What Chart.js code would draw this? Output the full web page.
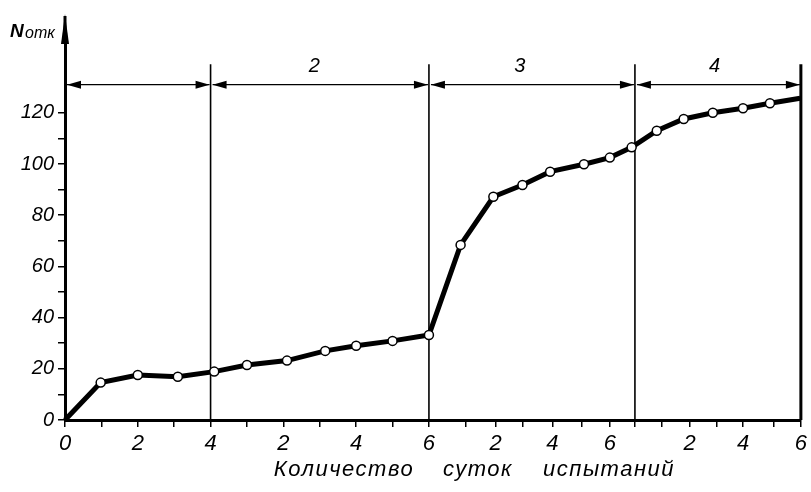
<!DOCTYPE html>
<html>
<head>
<meta charset="utf-8">
<script src="https://cdn.jsdelivr.net/npm/chart.js@4.4.0/dist/chart.umd.min.js"></script>
<style>
html, body { margin: 0; padding: 0; background: #fff; }
#wrap { width: 811px; height: 492px; }
</style>
</head>
<body>
<div id="wrap"><canvas id="chart" width="811" height="492"></canvas></div>
<script>
// x is measured along the axis in "days of period 1" (later periods are drawn compressed)
const tickPos = [0, 1, 2, 3, 4, 5, 6, 7, 8, 9, 10, 11, 11.83, 12.57, 13.39, 14.2, 14.97, 15.66, 16.39, 17.16, 17.9, 18.63, 19.48, 20.22];
const tickLabels = ['0', '', '2', '', '4', '', '2', '', '4', '', '6', '', '2', '', '4', '', '6', '', '', '2', '', '4', '', '6'];

const days = [0, 0.98, 2.0, 3.1, 4.1, 5.0, 6.1, 7.15, 8.0, 9.0, 10.0, 10.87, 11.77, 12.57, 13.33, 14.26, 14.97, 15.57, 16.26, 17.0, 17.8, 18.63, 19.37, 20.2];
const failures = [0, 14.6, 17.6, 16.9, 18.9, 21.5, 23.2, 27, 29, 30.9, 33.2, 68.4, 87.2, 91.8, 97, 99.9, 102.5, 106.5, 113, 117.6, 120, 121.8, 123.7, 125.7];

const yTicks = [0, 10, 20, 30, 40, 50, 60, 70, 80, 90, 100, 110, 120];

const periodBounds = [0, 4, 10, 15.66, 20.22];
const periodLabels = ['', '2', '3', '4'];
const periodLabelPos = [2, 6.85, 12.5, 17.85];
const arrowLevel = 131;
const boundTop = 139;

const FONT = "'Liberation Sans', 'DejaVu Sans', sans-serif";

const periodsPlugin = {
    id: 'periods',
    beforeDatasetsDraw(chart) {
        const { ctx, scales: { x, y } } = chart;
        ctx.save();
        ctx.strokeStyle = '#000';
        ctx.fillStyle = '#000';

        // boundary lines between periods
        periodBounds.slice(1).forEach((b, i) => {
            const px = x.getPixelForValue(b);
            ctx.lineWidth = i === periodBounds.length - 2 ? 3 : 1.6;
            ctx.beginPath();
            ctx.moveTo(px, y.getPixelForValue(boundTop));
            ctx.lineTo(px, y.getPixelForValue(0));
            ctx.stroke();
        });

        // dimension arrows
        const ay = y.getPixelForValue(arrowLevel);
        ctx.lineWidth = 1.3;
        for (let i = 0; i < periodBounds.length - 1; i++) {
            const a = x.getPixelForValue(periodBounds[i]) + 2;
            const b = x.getPixelForValue(periodBounds[i + 1]) - 1;
            ctx.beginPath();
            ctx.moveTo(a, ay);
            ctx.lineTo(b, ay);
            ctx.stroke();
            ctx.beginPath();
            ctx.moveTo(a, ay); ctx.lineTo(a + 14, ay - 4); ctx.lineTo(a + 14, ay + 4); ctx.closePath();
            ctx.moveTo(b, ay); ctx.lineTo(b - 14, ay - 4); ctx.lineTo(b - 14, ay + 4); ctx.closePath();
            ctx.fill();

            if (periodLabels[i]) {
                ctx.font = 'italic 20px ' + FONT;
                ctx.textAlign = 'center';
                ctx.textBaseline = 'alphabetic';
                ctx.fillText(periodLabels[i], x.getPixelForValue(periodLabelPos[i]), ay - 13);
            }
        }
        ctx.restore();
    },
    afterDraw(chart) {
        const { ctx, chartArea, scales: { x, y } } = chart;
        ctx.save();
        ctx.fillStyle = '#000';
        ctx.strokeStyle = '#000';
        // y axis arrow
        const ax = x.getPixelForValue(0);
        ctx.lineWidth = 3;
        ctx.beginPath();
        ctx.moveTo(ax, chartArea.top);
        ctx.lineTo(ax, 16);
        ctx.stroke();
        ctx.beginPath();
        ctx.moveTo(ax, 14); ctx.lineTo(ax - 4, 44); ctx.lineTo(ax + 4, 44); ctx.closePath();
        ctx.fill();

        // axis names
        ctx.textBaseline = 'alphabetic';
        ctx.textAlign = 'left';
        ctx.font = 'italic bold 19px ' + FONT;
        ctx.fillText('N', 10, 37);
        ctx.font = 'italic 16px ' + FONT;
        ctx.fillText('отк', 25, 38);

        ctx.font = 'italic 22px ' + FONT;
        ctx.textAlign = 'center';
        ctx.letterSpacing = '1.5px';
        ctx.fillText('Количество', 344, 476);
        ctx.fillText('суток', 478, 476);
        ctx.fillText('испытаний', 609, 476);
        ctx.restore();
    }
};

new Chart(document.getElementById('chart'), {
    type: 'line',
    data: {
        datasets: [{
            data: days.map((d, i) => ({ x: d, y: failures[i] })),
            borderColor: '#000',
            borderWidth: 5,
            tension: 0,
            pointRadius: days.map((d, i) => (i === 0 || i === days.length - 1) ? 0 : 4.5),
            pointBackgroundColor: '#fff',
            pointBorderColor: '#000',
            pointBorderWidth: 1.5,
            clip: false
        }]
    },
    options: {
        responsive: false,
        animation: false,
        layout: { padding: { top: 36, right: 4, left: 0, bottom: 0 } },
        plugins: { legend: { display: false }, tooltip: { enabled: false } },
        scales: {
            x: {
                type: 'linear',
                min: 0,
                max: 20.22,
                afterFit: s => { s.height = 72; },
                afterBuildTicks: s => { s.ticks = tickPos.map(v => ({ value: v })); },
                ticks: {
                    autoSkip: false,
                    maxRotation: 0,
                    padding: 4,
                    color: '#000',
                    font: { family: FONT, size: 22, style: 'italic' },
                    callback: (v, i) => tickLabels[i]
                },
                grid: { drawOnChartArea: false, drawTicks: true, tickLength: 7, color: '#000', lineWidth: 1.5 },
                border: { display: true, color: '#000', width: 3 }
            },
            y: {
                min: 0,
                max: 150,
                afterFit: s => { s.width = 65; },
                afterBuildTicks: s => { s.ticks = yTicks.map(v => ({ value: v })); },
                ticks: {
                    autoSkip: false,
                    padding: 4,
                    color: '#000',
                    font: { family: FONT, size: 20, style: 'italic' },
                    callback: v => (v % 20 === 0 ? v : '')
                },
                grid: { drawOnChartArea: false, drawTicks: true, tickLength: 7, color: '#000', lineWidth: 1.5 },
                border: { display: true, color: '#000', width: 3 }
            }
        }
    },
    plugins: [periodsPlugin]
});
</script>
</body>
</html>
